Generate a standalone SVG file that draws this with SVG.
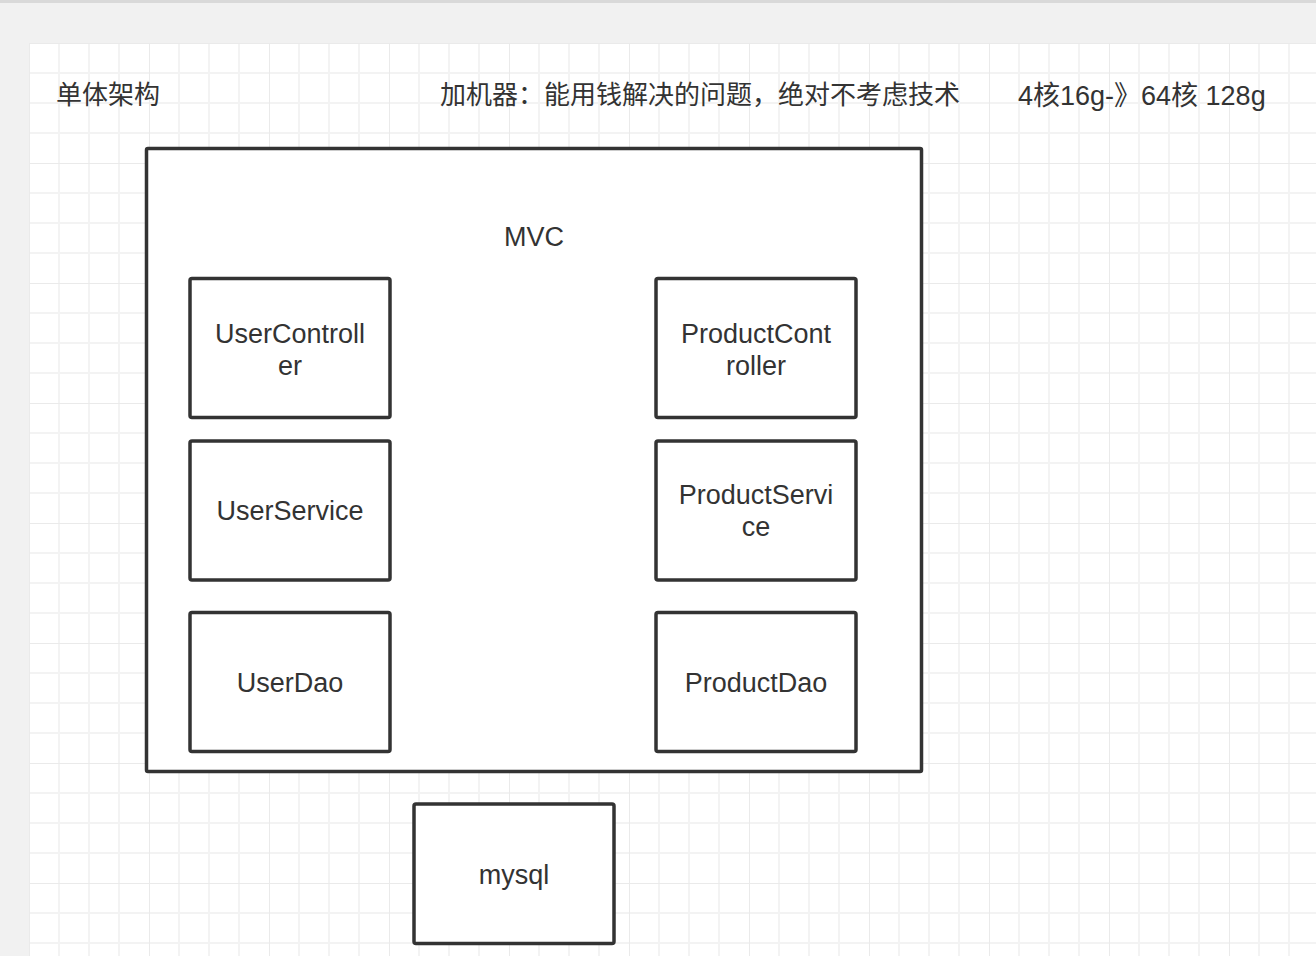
<svg xmlns="http://www.w3.org/2000/svg" width="1316" height="956" viewBox="0 0 1316 956">
  <defs>
    <pattern id="grid" patternUnits="userSpaceOnUse" x="29" y="43" width="120" height="120">
      <rect x="0" y="0" width="120" height="120" fill="#ffffff"/>
      <g stroke="#f3f3f3" stroke-width="2">
        <line x1="30" y1="0" x2="30" y2="120"/>
        <line x1="60" y1="0" x2="60" y2="120"/>
        <line x1="90" y1="0" x2="90" y2="120"/>
        <line x1="0" y1="30" x2="120" y2="30"/>
        <line x1="0" y1="60" x2="120" y2="60"/>
        <line x1="0" y1="90" x2="120" y2="90"/>
      </g>
      <g stroke="#eaeaea" stroke-width="2">
        <line x1="0" y1="0" x2="0" y2="120"/>
        <line x1="0" y1="0" x2="120" y2="0"/>
      </g>
    </pattern>
    <style>
      .box { fill: #ffffff; stroke: #333333; stroke-width: 3.5; }
      .lbl { font-family: "Liberation Sans", "Noto Sans CJK SC", sans-serif; font-size: 27px; fill: #333333; text-anchor: middle; }
      .hdr { font-family: "Liberation Sans", "Noto Sans CJK SC", sans-serif; font-size: 27px; fill: #333333; }
      .cjk { font-family: "Noto Sans CJK SC", sans-serif; font-size: 26px; fill: #333333; }
    </style>
  </defs>

  <rect x="0" y="0" width="1316" height="956" fill="#f1f1f1"/>
  <rect x="0" y="0" width="1316" height="3" fill="#d9d9d9"/>
  <rect x="29" y="43" width="1287" height="913" fill="url(#grid)"/>

  <g id="title">
    <text class="cjk" x="56" y="104">单体架构</text>
  </g>
  <g id="note">
    <text class="cjk" x="440" y="104">加机器：能用钱解决的问题，绝对不考虑技术</text>
  </g>
  <g id="spec">
    <text class="hdr" x="1018" y="105">4核16g-》64核 128g</text>
  </g>

  <g id="mvc">
    <rect class="box" x="146.5" y="148.5" width="775" height="623" rx="1.5"/>
    <text class="lbl" x="534" y="246">MVC</text>
  </g>

  <g id="userController">
    <rect class="box" x="190" y="278.5" width="200" height="139" rx="2"/>
    <text class="lbl" x="290" y="343">UserControll</text>
    <text class="lbl" x="290" y="375">er</text>
  </g>
  <g id="userService">
    <rect class="box" x="190" y="441" width="200" height="139" rx="2"/>
    <text class="lbl" x="290" y="520">UserService</text>
  </g>
  <g id="userDao">
    <rect class="box" x="190" y="612.5" width="200" height="139" rx="2"/>
    <text class="lbl" x="290" y="692">UserDao</text>
  </g>

  <g id="productController">
    <rect class="box" x="656" y="278.5" width="200" height="139" rx="2"/>
    <text class="lbl" x="756" y="343">ProductCont</text>
    <text class="lbl" x="756" y="375">roller</text>
  </g>
  <g id="productService">
    <rect class="box" x="656" y="441" width="200" height="139" rx="2"/>
    <text class="lbl" x="756" y="503.5">ProductServi</text>
    <text class="lbl" x="756" y="535.5">ce</text>
  </g>
  <g id="productDao">
    <rect class="box" x="656" y="612.5" width="200" height="139" rx="2"/>
    <text class="lbl" x="756" y="692">ProductDao</text>
  </g>

  <g id="mysql">
    <rect class="box" x="414" y="804" width="200" height="139.5" rx="2"/>
    <text class="lbl" x="514" y="884">mysql</text>
  </g>

  <g id="connectors"></g>
</svg>
